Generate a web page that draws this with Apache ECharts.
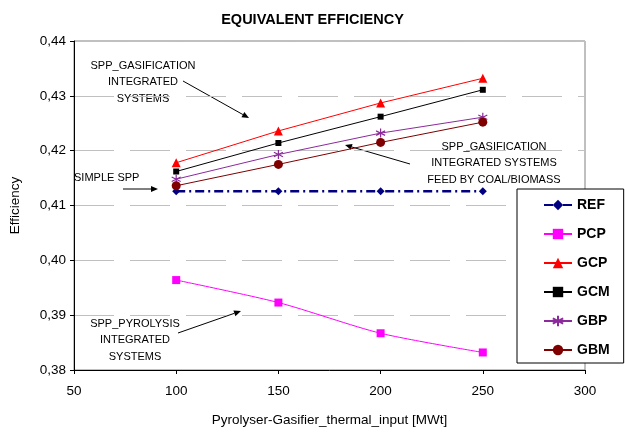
<!DOCTYPE html>
<html>
<head>
<meta charset="utf-8">
<script src="https://cdn.jsdelivr.net/npm/echarts@6/dist/echarts.min.js"></script>
<style>
  html, body { margin: 0; padding: 0; background: #fff; }
  #chart { width: 625px; height: 437px; }
</style>
</head>
<body>
<div id="chart"></div>
<script>
// data
var xValues = [100, 150, 200, 250];
var REF = [0.4126, 0.4126, 0.4126, 0.4126];
var PCP = [0.3964, 0.3923, 0.3867, 0.3832];
var GCP = [0.4178, 0.4236, 0.4287, 0.4332];
var GCM = [0.4162, 0.4214, 0.4262, 0.4311];
var GBP = [0.4148, 0.4193, 0.4232, 0.4261];
var GBM = [0.4136, 0.4175, 0.4215, 0.4252];

var FONT = '"Liberation Sans", Arial, sans-serif';

function pairs(ys) {
    return xValues.map(function (x, i) { return [x, ys[i]]; });
}

// asterisk marker (Excel "*")
var starPath = 'path://M5,0L5,10M0.7,2.5L9.3,7.5M9.3,2.5L0.7,7.5';

function arrow(x1, y1, x2, y2) {
    var a = Math.atan2(y2 - y1, x2 - x1);
    var len = 7, w = 3;
    var bx = x2 - len * Math.cos(a), by = y2 - len * Math.sin(a);
    return [
        { type: 'line', shape: { x1: x1, y1: y1, x2: bx, y2: by }, style: { stroke: '#000', lineWidth: 1 } },
        { type: 'polygon', shape: { points: [[x2, y2],
            [bx + w * Math.sin(a), by - w * Math.cos(a)],
            [bx - w * Math.sin(a), by + w * Math.cos(a)]] }, style: { fill: '#000' } }
    ];
}

function note(text, x, y, align) {
    return {
        type: 'text', x: x, y: y,
        style: { text: text, fill: '#000', font: '11px ' + FONT, align: align || 'center',
                 verticalAlign: 'middle', lineHeight: 16.5 }
    };
}

var graphics = [
    note('SPP_GASIFICATION\nINTEGRATED\nSYSTEMS', 143, 82),
    note('SIMPLE SPP', 74, 178, 'left'),
    note('SPP_GASIFICATION\nINTEGRATED SYSTEMS\nFEED BY COAL/BIOMASS', 494, 163),
    note('SPP_PYROLYSIS\nINTEGRATED\nSYSTEMS', 135, 340)
].concat(arrow(183, 81, 249, 118))
 .concat(arrow(123, 189, 158, 189))
 .concat(arrow(410, 164, 345, 145))
 .concat(arrow(178, 333, 241, 311));

var myChart = echarts.init(document.getElementById('chart'));

myChart.setOption({
    animation: false,
    backgroundColor: '#fff',
    title: {
        text: 'EQUIVALENT EFFICIENCY',
        left: 'center',
        top: 7,
        textStyle: { fontFamily: FONT, fontSize: 14.5, fontWeight: 'bold', color: '#000' }
    },
    grid: {
        left: 69, right: 40, top: 41, bottom: 67,
        show: true, borderColor: '#808080', borderWidth: 1, backgroundColor: 'transparent'
    },
    legend: {
        orient: 'vertical',
        left: 517, top: 189,
        padding: [9, 14, 6, 26],
        itemGap: 15,
        itemWidth: 28,
        itemHeight: 13,
        backgroundColor: '#fff',
        borderColor: '#000',
        borderWidth: 1,
        textStyle: { fontFamily: FONT, fontSize: 14, fontWeight: 'bold', color: '#000' },
        data: ['REF', 'PCP', 'GCP', 'GCM', 'GBP', 'GBM']
    },
    xAxis: {
        type: 'value',
        min: 50, max: 300, interval: 50,
        name: 'Pyrolyser-Gasifier_thermal_input [MWt]',
        nameLocation: 'middle',
        nameGap: 43,
        nameTextStyle: { fontFamily: FONT, fontSize: 13.5, color: '#000' },
        axisLine: { lineStyle: { color: '#000', width: 1 } },
        axisTick: { show: true, length: 4, lineStyle: { color: '#000' } },
        axisLabel: { fontFamily: FONT, fontSize: 13.5, color: '#000', margin: 14 },
        splitLine: { show: false }
    },
    yAxis: {
        type: 'value',
        min: 0.38, max: 0.44, interval: 0.01,
        name: 'Efficiency',
        nameLocation: 'middle',
        nameGap: 52,
        nameTextStyle: { fontFamily: FONT, fontSize: 13.5, color: '#000' },
        axisLine: { show: true, lineStyle: { color: '#000', width: 1 } },
        axisTick: { show: true, length: 4, lineStyle: { color: '#000' } },
        axisLabel: {
            fontFamily: FONT, fontSize: 13.5, color: '#000', margin: 8,
            formatter: function (v) { return v.toFixed(2).replace('.', ','); }
        },
        splitLine: { show: true, lineStyle: { color: '#c0c0c0', width: 1, type: [40, 16] } }
    },
    graphic: graphics,
    series: [
        {
            name: 'REF', type: 'line', data: pairs(REF),
            symbol: 'diamond', symbolSize: 8,
            itemStyle: { color: '#000080' },
            lineStyle: { color: '#000080', width: 2.5, type: [9, 4, 2, 4] }
        },
        {
            name: 'PCP', type: 'line', data: pairs(PCP), smooth: 0.25,
            symbol: 'rect', symbolSize: 8,
            itemStyle: { color: '#ff00ff' },
            lineStyle: { color: '#ff00ff', width: 1 }
        },
        {
            name: 'GCP', type: 'line', data: pairs(GCP),
            symbol: 'triangle', symbolSize: 9,
            itemStyle: { color: '#ff0000' },
            lineStyle: { color: '#ff0000', width: 1 }
        },
        {
            name: 'GCM', type: 'line', data: pairs(GCM),
            symbol: 'rect', symbolSize: 6,
            itemStyle: { color: '#000000' },
            lineStyle: { color: '#000000', width: 1 }
        },
        {
            name: 'GBP', type: 'line', data: pairs(GBP),
            symbol: starPath, symbolSize: 9,
            itemStyle: { color: '#8b2a9b', borderColor: '#8b2a9b', borderWidth: 1.2 },
            lineStyle: { color: '#8b2a9b', width: 1 }
        },
        {
            name: 'GBM', type: 'line', data: pairs(GBM),
            symbol: 'circle', symbolSize: 9,
            itemStyle: { color: '#800000' },
            lineStyle: { color: '#800000', width: 1 }
        }
    ]
});
</script>
</body>
</html>
